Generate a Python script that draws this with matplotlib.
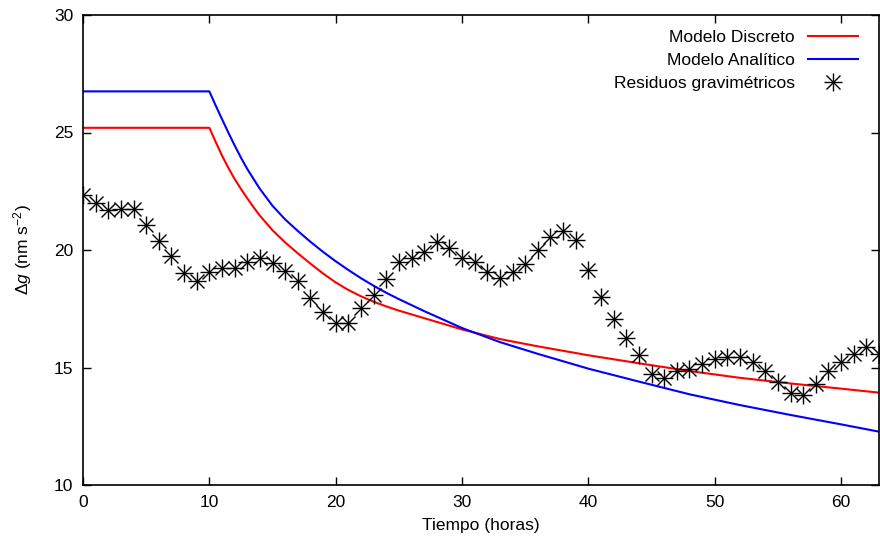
import matplotlib
matplotlib.use("Agg")
import matplotlib.pyplot as plt
from matplotlib.legend_handler import HandlerTuple

# residuos gravimetricos, una muestra por hora
horas = list(range(64))
residuos = [22.34, 22.0, 21.7, 21.74, 21.74, 21.06, 20.38, 19.74, 19.02, 18.68,
            19.06, 19.23, 19.23, 19.49, 19.66, 19.45, 19.1, 18.68, 17.96, 17.36,
            16.89, 16.89, 17.53, 18.09, 18.77, 19.49, 19.66, 19.91, 20.34, 20.09,
            19.66, 19.49, 19.06, 18.8, 19.06, 19.4, 20.0, 20.55, 20.81, 20.43,
            19.15, 18.0, 17.06, 16.26, 15.53, 14.72, 14.55, 14.85, 14.94, 15.15,
            15.36, 15.45, 15.45, 15.23, 14.85, 14.38, 13.91, 13.83, 14.3, 14.85,
            15.23, 15.57, 15.87, 15.57]

# modelos
t_mod = [0, 10, 10.5, 11, 11.5, 12, 12.5, 13, 13.5, 14, 15, 16, 17, 18, 19, 20,
         21, 22, 23, 24, 25, 27, 30, 33, 36, 40, 44, 48, 52, 56, 60, 63]
discreto = [25.2, 25.2, 24.6, 24.02, 23.5, 23.02, 22.6, 22.2, 21.82, 21.46,
            20.84, 20.32, 19.86, 19.42, 19.0, 18.62, 18.3, 18.03, 17.8, 17.6,
            17.42, 17.1, 16.62, 16.21, 15.9, 15.52, 15.18, 14.85, 14.56, 14.32,
            14.1, 13.93]
analitico = [26.75, 26.75, 26.15, 25.57, 25.0, 24.45, 23.93, 23.45, 23.02, 22.6,
             21.88, 21.3, 20.81, 20.35, 19.92, 19.52, 19.15, 18.8, 18.48, 18.18,
             17.91, 17.4, 16.68, 16.08, 15.58, 14.95, 14.4, 13.86, 13.4, 12.98,
             12.58, 12.27]

plt.rcParams['font.family'] = ['Liberation Sans', 'DejaVu Sans']
plt.rcParams['font.size'] = 12.5
plt.rcParams['mathtext.fontset'] = 'custom'
plt.rcParams['mathtext.rm'] = 'Liberation Sans'
plt.rcParams['mathtext.it'] = 'Liberation Sans:italic'

fig = plt.figure(figsize=(8.8, 5.42), dpi=100)
ax = fig.add_axes([83 / 880, 57 / 542, 796 / 880, 470 / 542])

l1, = ax.plot(t_mod, discreto, color='#ff0000', lw=1.5, label='Modelo Discreto')
l2, = ax.plot(t_mod, analitico, color='#0000ff', lw=1.5, label='Modelo Analítico')
p1, = ax.plot(horas, residuos, ls='none', marker='+', ms=12.5, mew=1.0, color='black')
p2, = ax.plot(horas, residuos, ls='none', marker='x', ms=12.5 * 0.75, mew=1.0, color='black')

ax.set_xlim(0, 63)
ax.set_ylim(10, 30)
ax.set_xticks(range(0, 61, 10))
ax.set_yticks(range(10, 31, 5))
ax.tick_params(direction='in', length=6, width=1, top=True, right=True, pad=7)
for s in ax.spines.values():
    s.set_linewidth(1.2)

ax.set_xlabel('Tiempo (horas)', labelpad=6)
ax.set_ylabel(r'$\Delta g$ (nm s$^{-2}$)', labelpad=14)

ax.legend([l1, l2, (p1, p2)],
          ['Modelo Discreto', 'Modelo Analítico', 'Residuos gravimétricos'],
          handler_map={tuple: HandlerTuple(ndivide=1)},
          loc='upper right', bbox_to_anchor=(0.9736, 0.9675), frameon=False,
          markerfirst=False, borderpad=0, borderaxespad=0, handlelength=2.9,
          handletextpad=0.75, labelspacing=0.45)

fig.savefig('out.png', dpi=100)
